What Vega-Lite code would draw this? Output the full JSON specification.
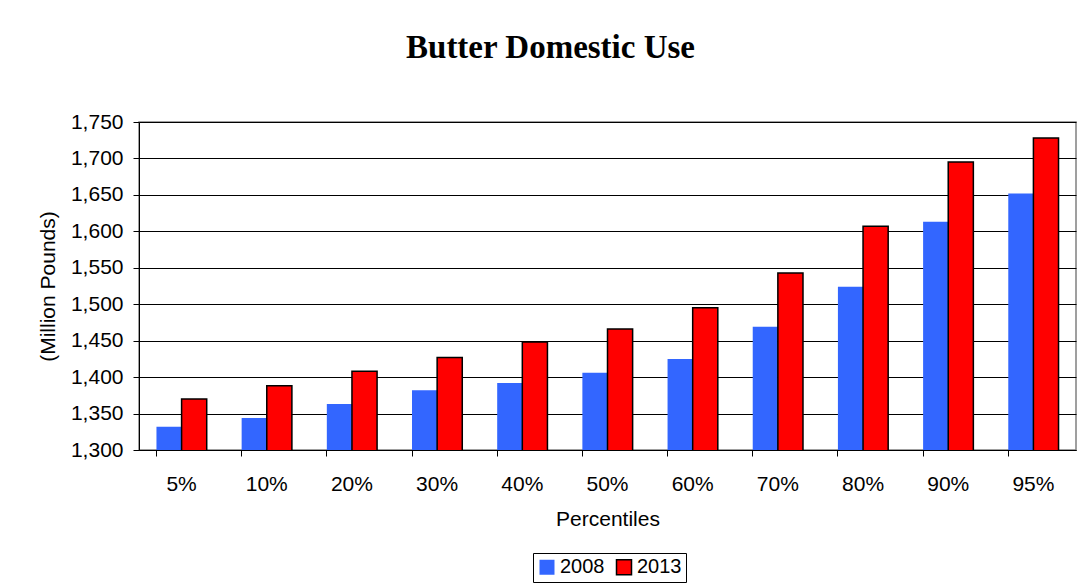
{
  "$schema": "https://vega.github.io/schema/vega-lite/v6.json",
  "width": 937,
  "height": 328,
  "autosize": {"type": "none"},
  "padding": {"left": 139, "top": 122, "right": 12, "bottom": 138},
  "background": "white",
  "title": {
    "text": "Butter Domestic Use",
    "font": "Liberation Serif",
    "fontSize": 33,
    "fontWeight": "bold",
    "color": "black",
    "anchor": "middle",
    "dx": -57,
    "offset": 46
  },
  "data": {
    "values": [
      {"pct": "5%", "year": "2008", "value": 1332},
      {"pct": "5%", "year": "2013", "value": 1370},
      {"pct": "10%", "year": "2008", "value": 1344},
      {"pct": "10%", "year": "2013", "value": 1388},
      {"pct": "20%", "year": "2008", "value": 1363},
      {"pct": "20%", "year": "2013", "value": 1408},
      {"pct": "30%", "year": "2008", "value": 1382},
      {"pct": "30%", "year": "2013", "value": 1427},
      {"pct": "40%", "year": "2008", "value": 1392},
      {"pct": "40%", "year": "2013", "value": 1448},
      {"pct": "50%", "year": "2008", "value": 1406},
      {"pct": "50%", "year": "2013", "value": 1466},
      {"pct": "60%", "year": "2008", "value": 1425},
      {"pct": "60%", "year": "2013", "value": 1495},
      {"pct": "70%", "year": "2008", "value": 1469},
      {"pct": "70%", "year": "2013", "value": 1543},
      {"pct": "80%", "year": "2008", "value": 1524},
      {"pct": "80%", "year": "2013", "value": 1607},
      {"pct": "90%", "year": "2008", "value": 1613},
      {"pct": "90%", "year": "2013", "value": 1695},
      {"pct": "95%", "year": "2008", "value": 1652},
      {"pct": "95%", "year": "2013", "value": 1728}
    ]
  },
  "mark": {"type": "bar", "strokeWidth": 1.5, "clip": true},
  "encoding": {
    "x": {
      "field": "pct",
      "type": "nominal",
      "sort": null,
      "scale": {"paddingInner": 0.41, "paddingOuter": 0.205},
      "axis": {
        "title": "Percentiles",
        "labelAngle": 0,
        "bandPosition": 0,
        "ticks": true,
        "tickSize": 6,
        "tickColor": "black",
        "domainColor": "black",
        "labelPadding": 17,
        "titlePadding": 14,
        "labelFont": "Liberation Sans",
        "labelFontSize": 21,
        "labelColor": "black",
        "titleFont": "Liberation Sans",
        "titleFontSize": 21,
        "titleFontWeight": "normal",
        "titleColor": "black",
        "grid": false
      }
    },
    "xOffset": {"field": "year", "type": "nominal", "scale": {"paddingInner": 0}},
    "y": {
      "field": "value",
      "type": "quantitative",
      "scale": {"domain": [1300, 1750], "zero": false, "nice": false},
      "axis": {
        "title": "(Million Pounds)",
        "values": [1300, 1350, 1400, 1450, 1500, 1550, 1600, 1650, 1700, 1750],
        "format": ",d",
        "grid": true,
        "gridColor": "black",
        "gridOpacity": 1,
        "tickSize": 6,
        "tickColor": "black",
        "domainColor": "black",
        "labelPadding": 10,
        "labelFont": "Liberation Sans",
        "labelFontSize": 21,
        "labelColor": "black",
        "titleFont": "Liberation Sans",
        "titleFontSize": 21,
        "titleFontWeight": "normal",
        "titleColor": "black",
        "titlePadding": 12
      }
    },
    "fill": {
      "field": "year",
      "type": "nominal",
      "scale": {"domain": ["2008", "2013"], "range": ["#3366FF", "#FF0000"]},
      "legend": {"title": null}
    },
    "stroke": {
      "field": "year",
      "type": "nominal",
      "scale": {"domain": ["2008", "2013"], "range": ["rgba(0,0,0,0)", "black"]},
      "legend": {"title": null}
    }
  },
  "config": {
    "view": {"stroke": "#808080", "strokeWidth": 1.5},
    "legend": {
      "orient": "none",
      "legendX": 394,
      "legendY": 431,
      "direction": "horizontal",
      "strokeColor": "black",
      "padding": 4,
      "symbolType": "square",
      "symbolSize": 225,
      "symbolStrokeWidth": 1.5,
      "symbolOpacity": 1,
      "labelFont": "Liberation Sans",
      "labelFontSize": 20,
      "labelColor": "black",
      "columnPadding": 8,
      "labelOffset": 3
    }
  }
}
